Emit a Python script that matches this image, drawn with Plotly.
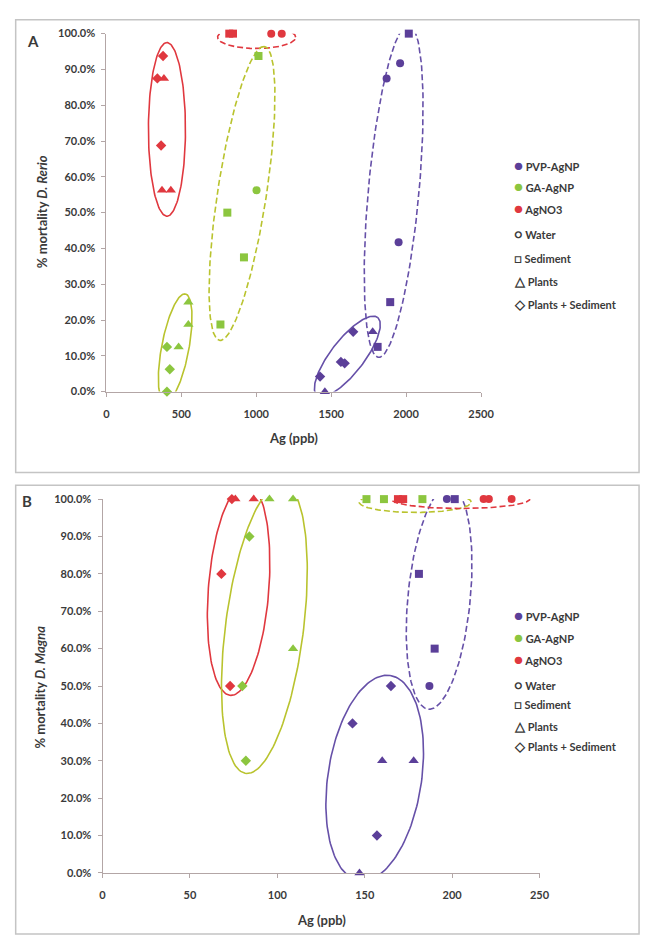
import numpy as np
import plotly.graph_objects as go

# ---------------------------------------------------------------
# Panel A - D. rerio : Ag concentration (ppb) vs. fractional mortality
# ---------------------------------------------------------------
A_PVP_WATER_AG = [1870, 1960, 1950]
A_PVP_WATER_MORT = [0.875, 0.917, 0.417]
A_PVP_SED_AG = [2018, 1894, 1810]
A_PVP_SED_MORT = [1.0, 0.25, 0.125]
A_PVP_PLANT_AG = [1777, 1458]
A_PVP_PLANT_MORT = [0.167, 0.0]
A_PVP_PSED_AG = [1647, 1565, 1590, 1426]
A_PVP_PSED_MORT = [0.167, 0.083, 0.079, 0.042]

A_GA_WATER_AG = [1002]
A_GA_WATER_MORT = [0.5625]
A_GA_SED_AG = [1015, 807, 918, 761]
A_GA_SED_MORT = [0.9375, 0.5, 0.375, 0.1875]
A_GA_PLANT_AG = [547, 547, 482]
A_GA_PLANT_MORT = [0.25, 0.1875, 0.125]
A_GA_PSED_AG = [404, 423, 404]
A_GA_PSED_MORT = [0.125, 0.0625, 0.0]

A_AGNO3_WATER_AG = [1100, 1170]
A_AGNO3_WATER_MORT = [1.0, 1.0]
A_AGNO3_SED_AG = [820, 845]
A_AGNO3_SED_MORT = [1.0, 1.0]
A_AGNO3_PLANT_AG = [384, 371, 430]
A_AGNO3_PLANT_MORT = [0.875, 0.5625, 0.5625]
A_AGNO3_PSED_AG = [378, 340, 365]
A_AGNO3_PSED_MORT = [0.9375, 0.875, 0.6875]

# ---------------------------------------------------------------
# Panel B - D. magna
# ---------------------------------------------------------------
B_PVP_WATER_AG = [197, 187]
B_PVP_WATER_MORT = [1.0, 0.5]
B_PVP_SED_AG = [201.5, 181, 190]
B_PVP_SED_MORT = [1.0, 0.8, 0.6]
B_PVP_PLANT_AG = [160, 178, 147]
B_PVP_PLANT_MORT = [0.3, 0.3, 0.0]
B_PVP_PSED_AG = [165, 143, 157]
B_PVP_PSED_MORT = [0.5, 0.4, 0.1]

B_GA_WATER_AG = []
B_GA_WATER_MORT = []
B_GA_SED_AG = [151, 161, 183]
B_GA_SED_MORT = [1.0, 1.0, 1.0]
B_GA_PLANT_AG = [95.5, 109, 109]
B_GA_PLANT_MORT = [1.0, 1.0, 0.6]
B_GA_PSED_AG = [84, 80, 82]
B_GA_PSED_MORT = [0.9, 0.5, 0.3]

B_AGNO3_WATER_AG = [218, 221, 234]
B_AGNO3_WATER_MORT = [1.0, 1.0, 1.0]
B_AGNO3_SED_AG = [169, 172]
B_AGNO3_SED_MORT = [1.0, 1.0]
B_AGNO3_PLANT_AG = [76, 86.5]
B_AGNO3_PLANT_MORT = [1.0, 1.0]
B_AGNO3_PSED_AG = [74, 68, 73]
B_AGNO3_PSED_MORT = [1.0, 0.8, 0.5]

TREATMENTS = ["PVP-AgNP", "GA-AgNP", "AgNO3"]
MEDIA = ["Water", "Sediment", "Plants", "Plants + Sediment"]
A_X_TICKS = [0, 500, 1000, 1500, 2000, 2500]
B_X_TICKS = [0, 50, 100, 150, 200, 250]
Y_TICKS = [0.0, 0.1, 0.2, 0.3, 0.4, 0.5, 0.6, 0.7, 0.8, 0.9, 1.0]

# ---------------------------------------------------------------
# styling
# ---------------------------------------------------------------
W, H = 654, 943
FONT = "Lato"
TXT = "#3a3a3a"
AXIS = "#b3a6a6"
COLORS = {"PVP-AgNP": "#5b3f99", "GA-AgNP": "#8cc63f", "AgNO3": "#e0383f"}
RING = {"PVP-AgNP": "#6650a8", "GA-AgNP": "#b9c32e", "AgNO3": "#e0383f"}
SYMBOLS = {"Water": "circle", "Sediment": "square",
           "Plants": "triangle-up", "Plants + Sediment": "diamond"}
SIZES = {"Water": 8, "Sediment": 8, "Plants": 9, "Plants + Sediment": 8}

# plot-area pixel boxes (left, right, top, bottom)
BOX_A = (106, 490, 27, 390)
BOX_B = (102, 550, 499, 878)
RANGE_A = (0, 2500)
RANGE_B = (0, 250)

PANEL_A = {
    "PVP-AgNP": [(A_PVP_WATER_AG, A_PVP_WATER_MORT), (A_PVP_SED_AG, A_PVP_SED_MORT),
                 (A_PVP_PLANT_AG, A_PVP_PLANT_MORT), (A_PVP_PSED_AG, A_PVP_PSED_MORT)],
    "GA-AgNP": [(A_GA_WATER_AG, A_GA_WATER_MORT), (A_GA_SED_AG, A_GA_SED_MORT),
                (A_GA_PLANT_AG, A_GA_PLANT_MORT), (A_GA_PSED_AG, A_GA_PSED_MORT)],
    "AgNO3": [(A_AGNO3_WATER_AG, A_AGNO3_WATER_MORT), (A_AGNO3_SED_AG, A_AGNO3_SED_MORT),
              (A_AGNO3_PLANT_AG, A_AGNO3_PLANT_MORT), (A_AGNO3_PSED_AG, A_AGNO3_PSED_MORT)],
}
PANEL_B = {
    "PVP-AgNP": [(B_PVP_WATER_AG, B_PVP_WATER_MORT), (B_PVP_SED_AG, B_PVP_SED_MORT),
                 (B_PVP_PLANT_AG, B_PVP_PLANT_MORT), (B_PVP_PSED_AG, B_PVP_PSED_MORT)],
    "GA-AgNP": [(B_GA_WATER_AG, B_GA_WATER_MORT), (B_GA_SED_AG, B_GA_SED_MORT),
                (B_GA_PLANT_AG, B_GA_PLANT_MORT), (B_GA_PSED_AG, B_GA_PSED_MORT)],
    "AgNO3": [(B_AGNO3_WATER_AG, B_AGNO3_WATER_MORT), (B_AGNO3_SED_AG, B_AGNO3_SED_MORT),
              (B_AGNO3_PLANT_AG, B_AGNO3_PLANT_MORT), (B_AGNO3_PSED_AG, B_AGNO3_PSED_MORT)],
}

# group outlines: (treatment, major-axis start, major-axis end, minor semi-axis px, dashed)
RINGS_A = [
    ("AgNO3", (404, 0.490), (404, 0.975), 19, False),
    ("AgNO3", (742, 0.990), (1263, 0.990), 11.5, True),
    ("GA-AgNP", (391, -0.030), (527, 0.273), 14, False),
    ("GA-AgNP", (755, 0.143), (1055, 0.964), 25, True),
    ("PVP-AgNP", (1406, -0.011), (1810, 0.207), 17, False),
    ("PVP-AgNP", (1816, 0.096), (2018, 1.025), 26, True),
]
RINGS_B = [
    ("AgNO3", (73.1, 0.475), (82.6, 1.042), 31, False),
    ("GA-AgNP", (82.0, 0.266), (103.2, 1.042), 40, False),
    ("PVP-AgNP", (146.8, -0.021), (164.6, 0.528), 48, False),
    ("PVP-AgNP", (186.4, 0.438), (198.7, 1.034), 32, True),
    ("GA-AgNP", (146.8, 0.992), (210.9, 0.992), 10.5, True),
    ("AgNO3", (165.2, 1.0), (244.4, 1.0), 9.5, True),
]


def px_x(v):
    return v / W


def px_y(v):
    return 1 - v / H


def ring(p0, p1, minor_px, sx, sy, n=160):
    """Ellipse through two major-axis tips, built in screen proportions."""
    x0, y0 = p0[0] * sx, p0[1] * sy
    x1, y1 = p1[0] * sx, p1[1] * sy
    cx, cy = (x0 + x1) / 2, (y0 + y1) / 2
    a = np.hypot(x1 - x0, y1 - y0) / 2
    th = np.arctan2(y1 - y0, x1 - x0)
    t = np.linspace(0, 2 * np.pi, n)
    ex = cx + a * np.cos(t) * np.cos(th) - minor_px * np.sin(t) * np.sin(th)
    ey = cy + a * np.cos(t) * np.sin(th) + minor_px * np.sin(t) * np.cos(th)
    return ex / sx, ey / sy


fig = go.Figure()


def add_panel(data, rings, box, xrange, xa, ya):
    sx = (box[1] - box[0]) / (xrange[1] - xrange[0])
    sy = (box[3] - box[2]) / 1.0
    for trt, p0, p1, minor, dashed in rings:
        ex, ey = ring(p0, p1, minor, sx, sy)
        fig.add_trace(go.Scatter(
            x=ex, y=ey, mode="lines", xaxis=xa, yaxis=ya, showlegend=False,
            cliponaxis=False, hoverinfo="skip",
            line=dict(color=RING[trt], width=1.6,
                      dash="6px,3px" if dashed else "solid")))
    for trt in TREATMENTS:
        for medium, (xs, ys) in zip(MEDIA, data[trt]):
            if not xs:
                continue
            fig.add_trace(go.Scatter(
                x=xs, y=ys, mode="markers", xaxis=xa, yaxis=ya,
                name=f"{trt} - {medium}", showlegend=False, cliponaxis=False,
                marker=dict(symbol=SYMBOLS[medium], size=SIZES[medium],
                            color=COLORS[trt], line=dict(width=0))))


add_panel(PANEL_A, RINGS_A, BOX_A, RANGE_A, "x", "y")
add_panel(PANEL_B, RINGS_B, BOX_B, RANGE_B, "x2", "y2")

tick_font = dict(family=FONT, size=11, color=TXT, weight="bold")


def xaxis_cfg(box, xrange, ticks, anchor):
    return dict(domain=[px_x(box[0]), px_x(box[1])], range=list(xrange),
                tickvals=ticks, showline=True, linecolor=AXIS, linewidth=1,
                ticks="outside", ticklen=4, tickcolor=AXIS, showgrid=False,
                zeroline=False, tickfont=tick_font, anchor=anchor,
                ticklabelstandoff=8, fixedrange=True)


def yaxis_cfg(box, anchor):
    return dict(domain=[px_y(box[3]), px_y(box[2])], range=[0, 1],
                tickvals=Y_TICKS, tickformat=".1%", showline=True,
                linecolor=AXIS, linewidth=1, ticks="outside", ticklen=4,
                tickcolor=AXIS, showgrid=False, zeroline=False,
                tickfont=tick_font, anchor=anchor, ticklabelstandoff=4,
                fixedrange=True)


fig.update_layout(
    width=W, height=H, margin=dict(l=0, r=0, t=0, b=0),
    paper_bgcolor="white", plot_bgcolor="white", showlegend=False,
    font=dict(family=FONT, color=TXT),
    xaxis=xaxis_cfg(BOX_A, RANGE_A, A_X_TICKS, "y"),
    yaxis=yaxis_cfg(BOX_A, "x"),
    xaxis2=xaxis_cfg(BOX_B, RANGE_B, B_X_TICKS, "y2"),
    yaxis2=yaxis_cfg(BOX_B, "x2"),
)

# panel frames
for (x0, y0, x1, y1) in [(13, 13, 652, 472), (13, 485, 652, 940)]:
    fig.add_shape(type="rect", xref="paper", yref="paper",
                  x0=px_x(x0), x1=px_x(x1), y0=px_y(y1), y1=px_y(y0),
                  line=dict(color="#c4c4c4", width=1.5))


def note(text, x, y, size=12, angle=0, anchor="center"):
    fig.add_annotation(text=text, xref="paper", yref="paper",
                       x=px_x(x), y=px_y(y), xanchor=anchor, yanchor="middle",
                       showarrow=False, textangle=angle,
                       font=dict(family=FONT, size=size, color=TXT, weight="bold"))


note("A", 31, 34, size=15)
note("B", 25, 501, size=15)
note("% mortality <i>D. Rerio</i>", 40, 208, size=13, angle=-90)
note("% mortality <i>D. Magna</i>", 38, 690, size=13, angle=-90)
note("Ag (ppb)", 298, 437, size=13)
note("Ag (ppb)", 326, 926, size=13)

# legends
GLYPHS = {"Water": "○", "Sediment": "□", "Plants": "△", "Plants + Sediment": "◇"}


def legend(x, y_rows):
    rows = [(f"<span style='color:{COLORS[t]};font-size:15px'>●</span> {t}")
            for t in TREATMENTS]
    rows += [f"<span style='font-size:13px'>{GLYPHS[m]}</span> {m}" for m in MEDIA]
    for text, y in zip(rows, y_rows):
        note(text, x, y, size=11, anchor="left")


legend(522, [160, 182, 204, 230, 255, 278, 301])
legend(522, [617, 639, 661, 687, 707, 729, 749])

fig.write_html("out.html")
